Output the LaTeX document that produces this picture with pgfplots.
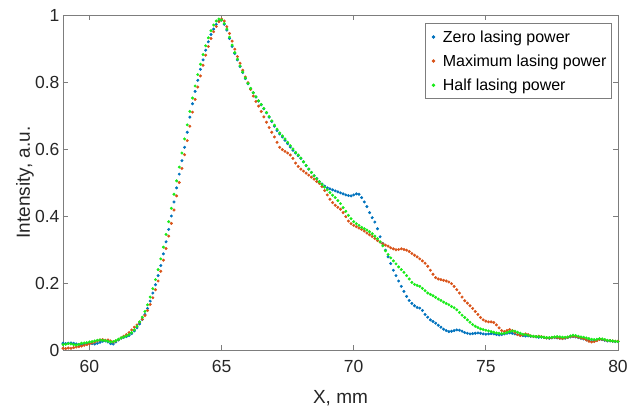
\documentclass[border=0pt]{standalone}
\usepackage{pgfplots}
\pgfplotsset{compat=1.18}
\usepackage{pgfplotstable}
\usepackage{fontspec}
\setmainfont{Liberation Sans}
\definecolor{mblue}{RGB}{0,114,189}
\definecolor{mred}{RGB}{217,83,25}
\definecolor{mgreen}{RGB}{25,235,25}
\definecolor{axgray}{RGB}{125,125,125}
\definecolor{txt}{RGB}{38,38,38}

\pgfplotstableread{
x b r g
59.0 0.020 0.005 0.016
59.1 0.019 0.004 0.017
59.2 0.020 0.006 0.019
59.3 0.021 0.005 0.018
59.4 0.020 0.007 0.016
59.5 0.018 0.009 0.015
59.6 0.016 0.010 0.017
59.7 0.015 0.012 0.020
59.8 0.017 0.014 0.021
59.9 0.019 0.016 0.022
60.0 0.020 0.018 0.024
60.1 0.019 0.021 0.025
60.2 0.018 0.024 0.027
60.3 0.020 0.027 0.029
60.4 0.023 0.030 0.030
60.5 0.026 0.031 0.029
60.6 0.027 0.029 0.028
60.7 0.024 0.030 0.026
60.8 0.019 0.027 0.024
60.9 0.018 0.024 0.025
61.0 0.024 0.027 0.028
61.1 0.030 0.031 0.032
61.2 0.035 0.036 0.036
61.3 0.038 0.041 0.039
61.4 0.040 0.046 0.042
61.5 0.043 0.052 0.046
61.6 0.049 0.060 0.052
61.7 0.057 0.068 0.060
61.8 0.066 0.075 0.071
61.9 0.078 0.083 0.084
62.0 0.091 0.092 0.098
62.1 0.106 0.103 0.115
62.2 0.124 0.118 0.135
62.3 0.146 0.136 0.158
62.4 0.170 0.156 0.183
62.5 0.195 0.180 0.210
62.6 0.222 0.206 0.240
62.7 0.252 0.235 0.272
62.8 0.287 0.268 0.307
62.9 0.323 0.303 0.345
63.0 0.360 0.340 0.383
63.1 0.400 0.378 0.423
63.2 0.442 0.418 0.465
63.3 0.484 0.460 0.505
63.4 0.525 0.500 0.546
63.5 0.565 0.542 0.588
63.6 0.605 0.583 0.630
63.7 0.650 0.625 0.672
63.8 0.695 0.668 0.712
63.9 0.735 0.710 0.752
64.0 0.772 0.748 0.788
64.1 0.805 0.785 0.822
64.2 0.838 0.818 0.853
64.3 0.866 0.850 0.882
64.4 0.895 0.880 0.908
64.5 0.920 0.906 0.932
64.6 0.942 0.930 0.953
64.7 0.958 0.950 0.970
64.8 0.972 0.966 0.982
64.9 0.982 0.980 0.988
65.0 0.985 0.988 0.985
65.1 0.972 0.982 0.975
65.2 0.955 0.965 0.958
65.3 0.930 0.945 0.934
65.4 0.906 0.922 0.910
65.5 0.885 0.898 0.888
65.6 0.866 0.876 0.868
65.7 0.846 0.856 0.848
65.8 0.828 0.835 0.830
65.9 0.810 0.815 0.812
66.0 0.795 0.798 0.796
66.1 0.780 0.778 0.781
66.2 0.768 0.758 0.768
66.3 0.755 0.742 0.756
66.4 0.743 0.728 0.744
66.5 0.732 0.712 0.733
66.6 0.720 0.696 0.721
66.7 0.708 0.680 0.709
66.8 0.695 0.664 0.697
66.9 0.682 0.650 0.684
67.0 0.668 0.636 0.671
67.1 0.655 0.620 0.659
67.2 0.645 0.605 0.648
67.3 0.636 0.598 0.639
67.4 0.626 0.593 0.630
67.5 0.616 0.588 0.620
67.6 0.606 0.582 0.610
67.7 0.596 0.572 0.600
67.8 0.588 0.558 0.590
67.9 0.580 0.548 0.582
68.0 0.572 0.540 0.573
68.1 0.562 0.534 0.562
68.2 0.550 0.528 0.551
68.3 0.540 0.522 0.540
68.4 0.530 0.516 0.530
68.5 0.520 0.510 0.520
68.6 0.512 0.503 0.511
68.7 0.503 0.497 0.502
68.8 0.496 0.488 0.494
68.9 0.489 0.476 0.486
69.0 0.484 0.463 0.478
69.1 0.481 0.450 0.470
69.2 0.478 0.440 0.462
69.3 0.475 0.432 0.455
69.4 0.472 0.426 0.446
69.5 0.469 0.420 0.437
69.6 0.466 0.410 0.425
69.7 0.463 0.398 0.414
69.8 0.461 0.385 0.402
69.9 0.460 0.377 0.392
70.0 0.463 0.372 0.383
70.1 0.466 0.368 0.377
70.2 0.465 0.364 0.372
70.3 0.455 0.360 0.366
70.4 0.442 0.355 0.362
70.5 0.428 0.349 0.358
70.6 0.410 0.344 0.353
70.7 0.395 0.339 0.347
70.8 0.382 0.333 0.340
70.9 0.362 0.327 0.332
71.0 0.338 0.322 0.323
71.1 0.318 0.317 0.311
71.2 0.298 0.313 0.296
71.3 0.278 0.310 0.285
71.4 0.258 0.305 0.275
71.5 0.238 0.302 0.266
71.6 0.222 0.299 0.257
71.7 0.206 0.300 0.248
71.8 0.190 0.302 0.240
71.9 0.175 0.300 0.232
72.0 0.160 0.298 0.222
72.1 0.148 0.294 0.212
72.2 0.139 0.288 0.202
72.3 0.132 0.283 0.196
72.4 0.127 0.278 0.193
72.5 0.125 0.272 0.190
72.6 0.118 0.266 0.184
72.7 0.106 0.259 0.177
72.8 0.098 0.250 0.170
72.9 0.090 0.238 0.166
73.0 0.085 0.226 0.162
73.1 0.080 0.216 0.157
73.2 0.074 0.212 0.152
73.3 0.068 0.210 0.148
73.4 0.062 0.208 0.143
73.5 0.058 0.206 0.139
73.6 0.055 0.203 0.135
73.7 0.056 0.198 0.130
73.8 0.058 0.190 0.126
73.9 0.060 0.180 0.120
74.0 0.059 0.170 0.112
74.1 0.056 0.158 0.104
74.2 0.052 0.147 0.097
74.3 0.050 0.140 0.090
74.4 0.048 0.132 0.083
74.5 0.049 0.124 0.076
74.6 0.050 0.115 0.071
74.7 0.051 0.106 0.067
74.8 0.050 0.097 0.063
74.9 0.048 0.090 0.061
75.0 0.047 0.086 0.059
75.1 0.048 0.084 0.057
75.2 0.049 0.084 0.055
75.3 0.048 0.082 0.053
75.4 0.046 0.075 0.051
75.5 0.045 0.066 0.050
75.6 0.046 0.058 0.049
75.7 0.048 0.055 0.050
75.8 0.050 0.058 0.052
75.9 0.051 0.061 0.055
76.0 0.050 0.058 0.057
76.1 0.048 0.052 0.056
76.2 0.046 0.046 0.053
76.3 0.045 0.043 0.050
76.4 0.043 0.045 0.047
76.5 0.042 0.048 0.046
76.6 0.042 0.046 0.044
76.7 0.041 0.042 0.042
76.8 0.040 0.040 0.041
76.9 0.039 0.040 0.040
77.0 0.038 0.041 0.040
77.1 0.038 0.040 0.039
77.2 0.037 0.038 0.038
77.3 0.036 0.036 0.037
77.4 0.035 0.036 0.037
77.5 0.036 0.037 0.038
77.6 0.037 0.038 0.039
77.7 0.036 0.037 0.040
77.8 0.035 0.035 0.039
77.9 0.034 0.034 0.038
78.0 0.035 0.036 0.038
78.1 0.037 0.038 0.039
78.2 0.039 0.040 0.042
78.3 0.040 0.041 0.044
78.4 0.039 0.040 0.043
78.5 0.037 0.038 0.041
78.6 0.035 0.036 0.039
78.7 0.033 0.034 0.038
78.8 0.030 0.030 0.036
78.9 0.028 0.026 0.034
79.0 0.026 0.024 0.032
79.1 0.027 0.025 0.031
79.2 0.030 0.028 0.032
79.3 0.032 0.031 0.034
79.4 0.031 0.032 0.033
79.5 0.029 0.030 0.031
79.6 0.027 0.028 0.029
79.7 0.027 0.028 0.028
79.8 0.026 0.027 0.027
79.9 0.025 0.026 0.026
80.0 0.025 0.026 0.025
}\datatable

\begin{document}
\begin{tikzpicture}
\begin{axis}[
  at={(0,0)}, anchor=south west,
  scale only axis, width=555pt, height=335pt,
  xmin=59, xmax=80, ymin=0, ymax=1,
  xtick={60,65,70,75,80},
  ytick={0,0.2,0.4,0.6,0.8,1},
  yticklabels={0,0.2,0.4,0.6,0.8,1},
  tick align=inside,
  major tick length=5pt,
  axis line style={axgray, line width=0.8pt},
  every tick/.style={axgray, line width=0.8pt},
  tick label style={font=\fontsize{17.5}{20}\selectfont, text=txt},
  xticklabel style={yshift=-7pt},
  /pgf/number format/assume math mode=true,
  xlabel={X, mm},
  ylabel={Intensity, a.u.},
  xlabel style={at={(axis description cs:0.5,-0.1433)}, anchor=center,
    font=\fontsize{19}{22}\selectfont, text=txt},
  ylabel style={at={(axis description cs:-0.0685,0.5)}, rotate=0, anchor=center,
    font=\fontsize{19}{22}\selectfont, text=txt},
  legend style={at={(0.989,0.976)}, anchor=north east, draw=axgray, line width=0.8pt,
    font=\fontsize{16}{19}\selectfont, text=black, row sep=7pt,
    inner xsep=3pt, inner ysep=5pt, cells={anchor=west}},
  legend cell align=left,
  every axis plot/.append style={only marks, mark=*, mark size=1.3pt,
    legend image code/.code={\path (-5pt,0pt) (7pt,0pt); \draw[##1] plot coordinates {(0pt,0pt)};}},
]
\addplot[mblue, mark options={draw=mblue, fill=mblue}] table[x=x, y=b] {\datatable};
\addlegendentry{Zero lasing power}
\addplot[mred, mark options={draw=mred, fill=mred}] table[x=x, y=r] {\datatable};
\addlegendentry{Maximum lasing power}
\addplot[mgreen, mark options={draw=mgreen, fill=mgreen}] table[x=x, y=g] {\datatable};
\addlegendentry{Half lasing power}
\end{axis}
\pgfresetboundingbox
\path[use as bounding box] (-63pt,-59pt) rectangle (575pt,350pt);
\end{tikzpicture}
\end{document}
